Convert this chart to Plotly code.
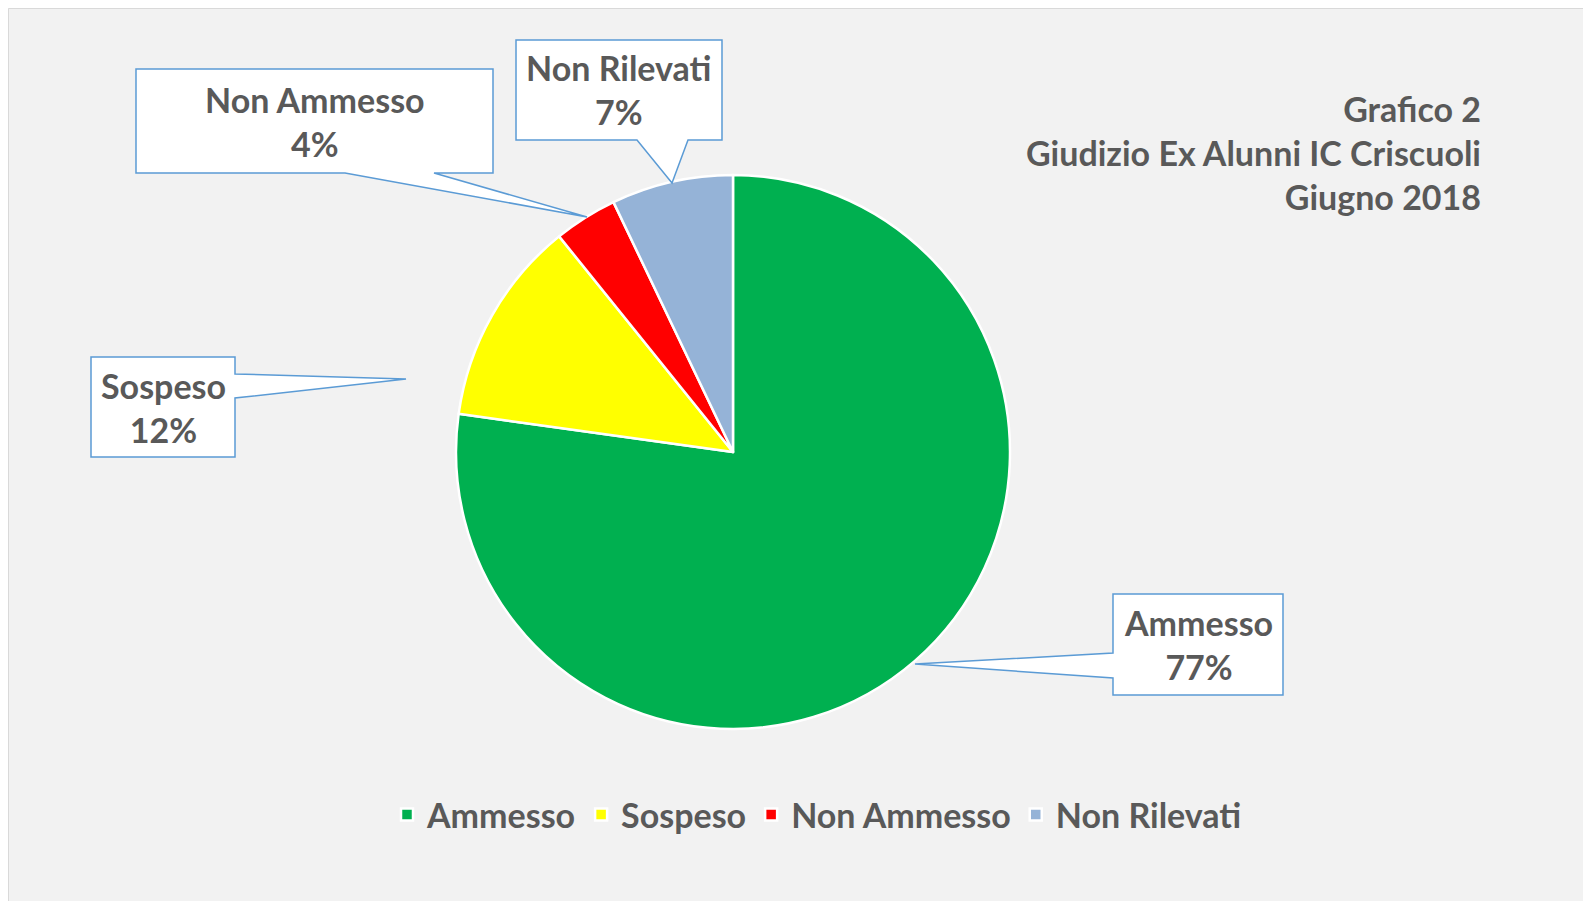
import plotly.graph_objects as go

# ---- data ----
categories = ["Ammesso", "Sospeso", "Non Ammesso", "Non Rilevati"]
values = [77.2, 12.0, 3.7, 7.1]
colors = ["#00B050", "#FFFF00", "#FF0000", "#95B3D7"]
title_lines = ["Grafico 2", "Giudizio Ex Alunni IC Criscuoli", "Giugno 2018"]

W, H = 1591, 901
OFF = 8  # page body margin
def px(x):
    return (x - OFF) / W
def py(y):
    return 1 - (y - OFF) / H

TEXT = "#595959"
BORDER = "#5B9BD5"
FONT = "Lato"
FS = 34

total = sum(values)
pct = [round(v / total * 100) for v in values]

# pie geometry (screen pixels)
cx, cy, r = 733, 452, 277

fig = go.Figure()
fig.add_trace(go.Pie(
    labels=categories, values=values, sort=False, direction="clockwise",
    rotation=0, textinfo="none", hoverinfo="label+percent",
    marker=dict(colors=colors, line=dict(color="white", width=2.5)),
    domain=dict(x=[px(cx - r), px(cx + r)], y=[py(cy + r), py(cy - r)]),
))

shapes = [dict(type="rect", xref="paper", yref="paper", x0=0.5 / W, x1=1.02,
               y0=-0.02, y1=1 - 0.5 / H, fillcolor="rgba(0,0,0,0)",
               line=dict(color="#D9D9D9", width=1), layer="below")]

# callouts: box (x0, y0, x1, y1), side of pointer, pointer base (two positions), tip
callouts = [
    dict(box=(1113, 594, 1283, 695), side="left", base=(653, 678), tip=(915, 664)),
    dict(box=(91, 357, 235, 457), side="right", base=(374, 398), tip=(406, 379)),
    dict(box=(136, 69, 493, 173), side="bottom", base=(345, 434), tip=(587, 217)),
    dict(box=(516, 40, 722, 140), side="bottom", base=(637, 688), tip=(672, 183)),
]

def P(x, y):
    return f"{px(x):.5f},{py(y):.5f}"

annotations = []
for i, c in enumerate(callouts):
    x0, y0, x1, y1 = c["box"]
    b1, b2 = c["base"]
    tx, ty = c["tip"]
    if c["side"] == "left":
        path = (f"M{P(x0,y0)} L{P(x1,y0)} L{P(x1,y1)} L{P(x0,y1)} L{P(x0,b2)} "
                f"L{P(tx,ty)} L{P(x0,b1)} Z")
    elif c["side"] == "right":
        path = (f"M{P(x0,y0)} L{P(x1,y0)} L{P(x1,b1)} L{P(tx,ty)} L{P(x1,b2)} "
                f"L{P(x1,y1)} L{P(x0,y1)} Z")
    else:  # bottom
        path = (f"M{P(x0,y0)} L{P(x1,y0)} L{P(x1,y1)} L{P(b2,y1)} L{P(tx,ty)} "
                f"L{P(b1,y1)} L{P(x0,y1)} Z")
    shapes.append(dict(type="path", xref="paper", yref="paper", path=path,
                       fillcolor="white", line=dict(color=BORDER, width=1.5)))
    annotations.append(dict(
        xref="paper", yref="paper", x=px((x0 + x1) / 2), y=py((y0 + y1) / 2),
        xanchor="center", yanchor="middle", showarrow=False, align="center",
        text=f"<b>{categories[i]}<br>{pct[i]}%</b>",
        font=dict(family=FONT, size=FS, color=TEXT)))

annotations.append(dict(
    xref="paper", yref="paper", x=px(1483), y=py(152), xanchor="right",
    yanchor="middle", showarrow=False, align="right",
    text="<b>" + "<br>".join(title_lines) + "</b>",
    font=dict(family=FONT, size=FS, color=TEXT)))

fig.update_layout(
    width=W, height=H, margin=dict(l=0, r=0, t=0, b=0),
    paper_bgcolor="#F2F2F2", plot_bgcolor="#F2F2F2",
    shapes=shapes, annotations=annotations,
    showlegend=True,
    legend=dict(orientation="h", x=px(817), xanchor="center", y=py(815),
                yanchor="middle", bgcolor="rgba(0,0,0,0)",
                font=dict(family=FONT, size=FS, color=TEXT, weight=700),
                itemwidth=30, traceorder="normal"),
)

fig.write_html("out.html")
